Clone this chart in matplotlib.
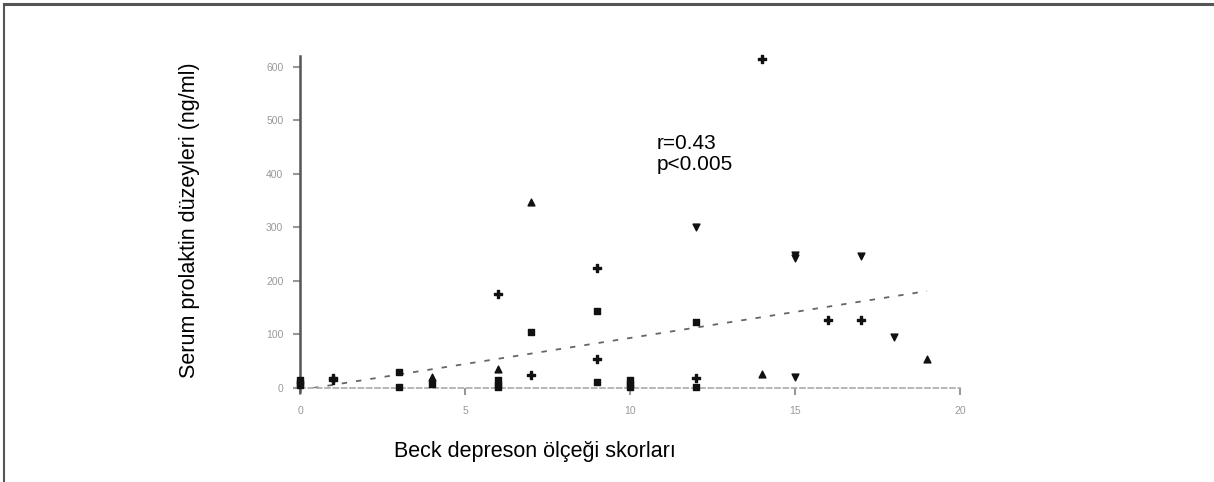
import matplotlib
matplotlib.use("Agg")
import matplotlib.pyplot as plt
from matplotlib.lines import Line2D

plt.rcParams['font.family'] = ['Liberation Sans', 'DejaVu Sans']

# Beck score vs serum prolactin, grouped by marker shape
plus_x = [1, 1, 6, 7, 9, 9, 12, 14, 16, 17]
plus_y = [18, 15, 176, 24, 224, 54, 18, 615, 127, 127]

sq_x = [0, 0, 0, 3, 3, 4, 6, 6, 6, 7, 9, 9, 10, 10, 10, 12, 12]
sq_y = [15, 10, 5, 30, 2, 7, 15, 5, 2, 105, 144, 11, 15, 8, 2, 123, 2]

up_x = [4, 6, 7, 14, 19]
up_y = [21, 35, 348, 26, 54]

down_x = [12, 15, 15, 15, 17, 18]
down_y = [300, 248, 243, 21, 247, 95]

trend_x = [0.4, 19]
trend_y = [0, 181]

xticks = [0, 5, 10, 15, 20]
yticks = [0, 100, 200, 300, 400, 500, 600]

fig = plt.figure(figsize=(12.14, 4.82), dpi=100)
ax = fig.add_axes([300/1214, 1-388/482, 660/1214, 332/482])

ax.plot(trend_x, trend_y, linestyle=(0, (3, 5)), color='#666666', lw=1.3)
ax.scatter(sq_x, sq_y, marker='s', s=20, color='#111111', zorder=3)
ax.scatter(plus_x, plus_y, marker='P', s=28, color='#111111', zorder=3)
ax.scatter(up_x, up_y, marker='^', s=24, color='#111111', zorder=3)
ax.scatter(down_x, down_y, marker='v', s=24, color='#111111', zorder=3)

ax.set_xlim(0, 20)
ax.set_ylim(0, 620)
ax.set_xticks(xticks)
ax.set_yticks(yticks)
ax.tick_params(axis='both', labelsize=7.5, colors='#999999', length=5, width=1.5)
ax.tick_params(axis='y', pad=7)
ax.tick_params(axis='x', pad=8)

for s in ['top', 'right']:
    ax.spines[s].set_visible(False)
ax.spines['left'].set_color('#555555')
ax.spines['left'].set_linewidth(1.8)
ax.spines['left'].set_bounds(-8, 620)
ax.spines['bottom'].set_color('#aaaaaa')
ax.spines['bottom'].set_linestyle((0, (3, 2)))
ax.spines['bottom'].set_linewidth(1.2)
for c in ax.collections:
    c.set_clip_on(False)

ax.text(10.8, 474, 'r=0.43\np<0.005', fontsize=15, va='top', ha='left', linespacing=1.15)

fig.text(190/1214, 1-220/482, 'Serum prolaktin düzeyleri (ng/ml)', rotation=90,
         fontsize=15.5, ha='center', va='center')
fig.text(535/1214, 1-452/482, 'Beck depreson ölçeği skorları', fontsize=15.5,
         ha='center', va='center')

# outer frame: only top and left edges
fig.add_artist(Line2D([4/1214, 1], [1-4/482, 1-4/482], color='#555555', lw=2.2))
fig.add_artist(Line2D([4/1214, 4/1214], [0, 1-4/482], color='#555555', lw=1.5))

fig.savefig('out.png', dpi=100)
